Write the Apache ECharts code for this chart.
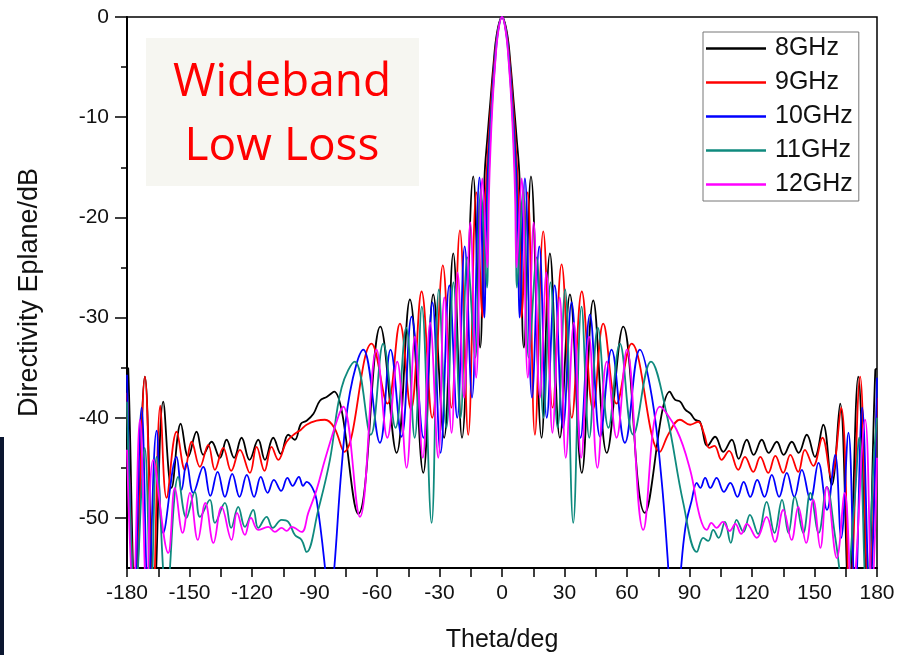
<!DOCTYPE html>
<html>
<head>
<meta charset="utf-8">
<script src="https://cdn.jsdelivr.net/npm/echarts@6/dist/echarts.min.js"></script>
<style>html,body{margin:0;padding:0;background:#fff}#c{width:897px;height:655px}</style>
</head>
<body>
<div id="c"></div>
<script>
// ---- tick labels ----
const xTicks = [-180, -150, -120, -90, -60, -30, 0, 30, 60, 90, 120, 150, 180];
const xAllTicks = [-180, -165, -150, -135, -120, -105, -90, -75, -60, -45, -30, -15, 0, 15, 30, 45, 60, 75, 90, 105, 120, 135, 150, 165, 180];
const yMajorTicks = [-50, -40, -30, -20, -10, 0];
const yMinorTicks = [-45, -35, -25, -15, -5];
const seriesNames = ['8GHz', '9GHz', '10GHz', '11GHz', '12GHz'];

// ---- series values: [theta (deg), directivity (dB)] ----
const s8GHz = [
[-180,-35],[-179.4,-35.1],[-176,-58],[-171.4,-35.9],[-167,-58],[-162.6,-38.4],[-158.6,-47],[-154.2,-40.6],[-150.6,-43.9],[-146.6,-41.4],[-143.4,-43.7],[-139.4,-42.4],[-135.4,-44],[-132.2,-42.2],[-128.6,-44],[-125,-42],[-121.2,-44.2],[-117,-42.2],[-113.8,-44.2],[-109.8,-42],[-106.2,-43.6],[-102.6,-41.7],[-99.5,-42.2],[-96.5,-40.6],[-93.8,-40.3],[-90.5,-39.6],[-87.4,-38.3],[-84,-37.9],[-80.6,-37.4],[-69,-49.6],[-58.4,-30.9],[-50.6,-43.5],[-44.2,-28.2],[-37.8,-45.5],[-33,-27.7],[-27.8,-42],[-23.4,-23.6],[-19.2,-42],[-13.8,-15.9],[-10.5,-33],[-8.4,-16],[-7,-12],[-5.6,-8.5],[-4.2,-5],[-2.4,-1.6],[0,0],
[2.4,-1.6],[4.2,-5],[5.6,-8.5],[7,-12],[8.4,-16],[10.5,-33],[13.9,-15.9],[19,-42],[23,-23.6],[27.8,-42],[32.6,-27.7],[38.3,-45.5],[43.8,-28.3],[50.3,-43.5],[58.2,-30.9],[68.6,-49.5],[80.6,-37.4],[83,-38.2],[85.5,-38.4],[88,-39.2],[90.5,-39.6],[92.7,-40.2],[95,-40.4],[98.7,-42.8],[102.3,-41.9],[106.2,-43.4],[110.3,-42.2],[113.6,-44.1],[117.5,-42.2],[120.8,-43.7],[124.7,-42.2],[128,-43.5],[131.9,-42.4],[135.2,-43.7],[139.1,-42.4],[142.4,-43.5],[146.3,-41.7],[150.2,-43.9],[154.2,-40.7],[158.3,-46.7],[162.3,-38.6],[166.5,-58],[171,-35.9],[175.5,-58],[179.2,-35.2],[180,-35.1]
];
const s9GHz = [
[-180,-37.5],[-176,-58],[-171.4,-35.9],[-167.5,-58],[-164,-38.8],[-161,-48],[-156.2,-41.4],[-152.2,-45.2],[-149,-42.4],[-145,-44.9],[-141,-42.7],[-137.8,-45.2],[-133.8,-43],[-130,-45.3],[-125.8,-43.2],[-121,-45.5],[-117.8,-42.9],[-114,-45.3],[-110.6,-42.9],[-107.4,-44.2],[-103.4,-42.4],[-99.4,-41.6],[-96.5,-41.2],[-93.8,-40.7],[-89,-40.3],[-85,-40.2],[-80.5,-41],[-75.8,-43.4],[-62.6,-32.6],[-55,-38.6],[-49,-30.6],[-43.7,-39.2],[-38.6,-27.4],[-33.5,-40],[-28.4,-24.8],[-24.3,-39],[-20.2,-21.3],[-16.2,-41.7],[-12.3,-17.5],[-9.3,-30],[-8.6,-23],[-7.7,-17],[-6.5,-12.5],[-5.2,-8.5],[-3.9,-5],[-2.2,-1.6],[0,0],
[2.2,-1.6],[3.9,-5],[5.2,-8.5],[6.5,-12.5],[7.7,-17],[8.6,-23],[9.3,-30],[12.3,-17.5],[15.8,-41.7],[19.8,-21.4],[24.3,-39],[28.6,-24.7],[33.5,-40],[38.3,-27.4],[43.7,-39.2],[48.6,-30.6],[55,-38.6],[62.2,-32.6],[75.8,-43.4],[80,-41.6],[85.4,-40.2],[90.3,-40.7],[94.2,-40.4],[97,-41.6],[99.5,-43],[102,-42.8],[105.4,-44.2],[109,-43.3],[113.4,-45.2],[116.6,-43.9],[120.6,-45.4],[124,-43.9],[127.8,-45.5],[131.2,-43.8],[135,-45.5],[138.4,-43.7],[142.2,-45.4],[145.4,-43.2],[149.4,-44.8],[153.8,-42],[158,-46],[162.8,-39],[167,-58],[171.9,-35.9],[176,-58],[180,-38]
];
const s10GHz = [
[-180,-35.7],[-176.5,-58],[-173,-39],[-169.8,-58],[-165.8,-41.3],[-162.6,-51.5],[-156.2,-43.9],[-153.8,-47.2],[-151.4,-44.5],[-148.2,-47.5],[-143.4,-44.9],[-140,-47.8],[-136.5,-45.4],[-133,-47.9],[-129.5,-45.6],[-126,-47.9],[-122.5,-45.7],[-119,-47.9],[-115.8,-45.9],[-112.5,-47.5],[-109.5,-46.2],[-106,-47.3],[-103,-46],[-100.5,-46.8],[-97.5,-45.9],[-95.5,-46.8],[-93.8,-46.4],[-91,-47],[-89,-48.2],[-85,-54.9],[-83,-60],[-80.5,-55],[-77,-45],[-73,-37.5],[-66.6,-33.2],[-58.6,-42.5],[-53.5,-33.2],[-48.2,-41.9],[-43.4,-29.9],[-37.7,-42],[-33.4,-28.5],[-29.5,-43.5],[-25.3,-26.8],[-21.5,-40],[-17.9,-22.9],[-14.4,-38],[-10.8,-16],[-8.4,-30],[-7.8,-23],[-7.1,-17],[-6.1,-12.5],[-4.9,-8.5],[-3.7,-5],[-2.1,-1.6],[0,0],
[2.1,-1.6],[3.7,-5],[4.9,-8.5],[6.1,-12.5],[7.1,-17],[7.8,-23],[8.4,-30],[11,-16.1],[14.4,-38],[17.9,-22.9],[21.5,-40],[25.3,-26.8],[29.3,-41],[33.4,-28.5],[37.7,-42],[42.2,-29.7],[47.1,-41.9],[52.6,-33.2],[59,-42.5],[66.2,-33.2],[72,-38],[76.5,-46],[79.5,-54],[82,-62],[85,-57],[88,-51],[91,-48.3],[93.5,-46.5],[95.2,-47],[97.5,-46],[100,-47],[103,-46],[106.5,-47.4],[109.6,-46.5],[113,-47.9],[116,-46.4],[119.2,-47.9],[122.5,-46.2],[126,-47.9],[129.5,-45.7],[133,-47.9],[136.7,-45.5],[140.3,-47.9],[143.9,-45.2],[148,-48.2],[151.9,-44.5],[156,-49.2],[159.9,-43.7],[162.8,-52],[166.3,-41.5],[169.5,-58],[172.9,-39],[176.5,-58],[180,-36]
];
const s11GHz = [
[-180,-38.4],[-176,-58],[-171.5,-43],[-168.5,-58],[-165.8,-43.9],[-161,-58],[-155.4,-45.9],[-151.5,-50],[-147.4,-47.4],[-145,-49.9],[-140.2,-48.2],[-137.8,-50.5],[-133,-48.5],[-130,-51],[-126.6,-48.9],[-123.4,-50.9],[-119.4,-49.2],[-117,-51],[-113,-49.9],[-110,-51],[-105.8,-50.2],[-102.6,-50.4],[-99.4,-51.7],[-96.2,-52.2],[-93.8,-53.4],[-88.2,-49.2],[-82.6,-44.2],[-77,-37],[-70.6,-34.4],[-63,-41.7],[-57,-32.6],[-51.1,-41],[-46,-31],[-41.9,-42],[-38.5,-28.9],[-33.8,-50.5],[-30.3,-27.2],[-26.7,-41],[-23.3,-26.5],[-19.9,-40],[-16.6,-24],[-12.8,-34],[-10.1,-17.2],[-7.2,-27],[-6.6,-18],[-5.8,-13],[-4.7,-8.5],[-3.5,-5],[-2,-1.6],[0,0],
[2,-1.6],[3.5,-5],[4.7,-8.5],[5.8,-13],[6.6,-18],[7.2,-27],[10.1,-17.2],[12.8,-34],[16.6,-24],[19.9,-40],[23.3,-26.5],[26.7,-41],[30.3,-27.2],[34.2,-50.5],[38.2,-28.9],[41.9,-42],[46,-31],[51.1,-41],[56.6,-32.6],[63,-41.7],[71.5,-34.4],[79,-39.6],[87,-48.5],[93.5,-53.4],[96.6,-52],[99,-52.3],[101.4,-51.2],[104,-52],[107,-50.4],[109.8,-52.5],[112.6,-50.2],[115.9,-51.4],[119,-49.7],[122.9,-51.6],[127,-48.4],[130.8,-51.5],[134.4,-48.2],[137.5,-51.5],[140.6,-47.9],[144.6,-51.5],[148,-47.5],[152,-51.5],[155.9,-46.9],[160,-52],[164.5,-58],[169,-49],[171.5,-42],[175,-58],[178.5,-44],[180,-40]
];
const s12GHz = [
[-180,-43.2],[-177,-58],[-173.8,-40.2],[-170.5,-58],[-167.4,-44.2],[-160.2,-53.5],[-157,-47],[-153.3,-51.5],[-149.8,-47.5],[-146,-52.2],[-142.4,-48.5],[-138.5,-52.5],[-134.6,-48.9],[-129.8,-52.2],[-127.2,-49.5],[-123.4,-51.7],[-120.5,-50],[-117,-51.2],[-112.2,-50.9],[-109,-51.4],[-105.8,-51],[-103.4,-51.3],[-101,-50.9],[-96.2,-51.4],[-93,-49.5],[-89,-47.2],[-85,-44.2],[-78.6,-39.9],[-76.2,-38.9],[-68.2,-49.9],[-60.2,-33.2],[-55,-42],[-50.3,-34.4],[-45.8,-45],[-41.8,-31.9],[-38,-44],[-34.5,-30.5],[-30.6,-44],[-27.7,-28],[-24.2,-41.5],[-21.3,-25.5],[-18.2,-38],[-15.2,-20.5],[-12.4,-36],[-9.4,-16.1],[-7,-25],[-6.3,-18],[-5.5,-13],[-4.5,-8.5],[-3.4,-5],[-1.9,-1.6],[0,0],
[1.9,-1.6],[3.4,-5],[4.5,-8.5],[5.5,-13],[6.3,-18],[7,-25],[9.4,-16.1],[12.4,-36],[15.2,-20.5],[18.2,-38],[21.3,-25.5],[24.2,-41.5],[27.7,-28],[30.6,-44],[34.5,-30.5],[38,-44],[41.8,-31.9],[45.8,-45],[50.3,-34.4],[55,-42],[59.9,-33.2],[67.8,-51.2],[75.8,-38.9],[83.8,-41.2],[90.3,-45.2],[95,-49.9],[98.3,-51.2],[100.5,-50.5],[103,-51],[106,-50.4],[109.3,-51.3],[112,-50.6],[114.8,-51.6],[117.5,-50.6],[122.3,-52],[127,-49.9],[131,-52.4],[135,-49.2],[139,-52.2],[142.2,-48.9],[146,-52.5],[149.4,-48.2],[152.8,-53],[155.9,-46.9],[160.7,-54],[164.5,-47.5],[168,-58],[174.3,-40.2],[177.5,-58],[180,-44]
];

const seriesData = [s8GHz, s9GHz, s10GHz, s11GHz, s12GHz];
const seriesColors = ['#000000', '#ff0000', '#0000ff', '#0f8a7e', '#ff00ff'];

const FONT = 'Liberation Sans, Arial, sans-serif';
const chart = echarts.init(document.getElementById('c'), null, {renderer: 'canvas'});
const tickStyle = {color: '#000', width: 1.5};

const option = {
  animation: false,
  backgroundColor: '#ffffff',
  grid: {left: 127, right: 20, top: 17, bottom: 87, show: true, borderColor: '#000', borderWidth: 1.5, outerBoundsMode: 'none'},
  legend: {
    orient: 'vertical', left: 703, top: 32,
    data: seriesNames,
    icon: 'rect', itemWidth: 60, itemHeight: 2.5, itemGap: 9,
    padding: [4, 6, 4, 3],
    borderColor: '#777', borderWidth: 1,
    textStyle: {fontSize: 25, color: '#111', fontFamily: FONT, padding: [0, 0, 0, 4]}
  },
  xAxis: {
    type: 'value', min: xTicks[0], max: xTicks[xTicks.length - 1], interval: 30, position: 'bottom',
    name: 'Theta/deg', nameLocation: 'middle', nameGap: 60,
    nameTextStyle: {fontSize: 25, color: '#111', fontFamily: FONT},
    axisLine: {show: true, onZero: false, lineStyle: {color: '#000', width: 2}},
    axisTick: {show: true, customValues: xAllTicks, length: 9, lineStyle: tickStyle},
    axisLabel: {fontSize: 21, color: '#111', margin: 15, fontFamily: FONT, customValues: xTicks},
    splitLine: {show: false}
  },
  yAxis: [{
    type: 'value', min: -55, max: 0, position: 'left',
    name: 'Directivity Eplane/dB', nameLocation: 'middle', nameGap: 84, nameRotate: 90,
    nameTextStyle: {fontSize: 27, color: '#111', fontFamily: FONT},
    axisLine: {show: true, onZero: false, lineStyle: {color: '#000', width: 2}},
    axisTick: {show: true, customValues: yMajorTicks, length: 12, lineStyle: tickStyle},
    axisLabel: {show: true, customValues: yMajorTicks, fontSize: 21, color: '#111', margin: 18, fontFamily: FONT},
    splitLine: {show: false}
  }, {
    type: 'value', min: -55, max: 0, position: 'left',
    axisLine: {show: false, onZero: false},
    axisTick: {show: true, customValues: yMinorTicks, length: 6, lineStyle: tickStyle},
    axisLabel: {show: false},
    splitLine: {show: false}
  }],
  series: seriesNames.map((n, i) => ({
    name: n, type: 'line', data: seriesData[i], xAxisIndex: 0, yAxisIndex: 0,
    showSymbol: false, symbol: 'none', smooth: 0.4, clip: true,
    lineStyle: {color: seriesColors[i], width: 1.8},
    itemStyle: {color: seriesColors[i]}
  })),
  graphic: [
    {type: 'rect', left: 0, top: 437, shape: {width: 4, height: 218}, style: {fill: '#0b1630'}, z: 100},
    {type: 'rect', x: 146, y: 38, shape: {width: 273, height: 148}, style: {fill: '#f6f6f1'}, z: -1, silent: true},
    {type: 'text', x: 282, y: 83, z: 100, style: {text: 'Wideband', fill: '#ff0000', font: '46px "Open Sans"', align: 'center', verticalAlign: 'middle', textAlign: 'center', textVerticalAlign: 'middle'}},
    {type: 'text', x: 282, y: 147, z: 100, style: {text: 'Low Loss', fill: '#ff0000', font: '46px "Open Sans"', align: 'center', verticalAlign: 'middle', textAlign: 'center', textVerticalAlign: 'middle'}}
  ]
};
chart.setOption(option);
</script>
</body>
</html>
